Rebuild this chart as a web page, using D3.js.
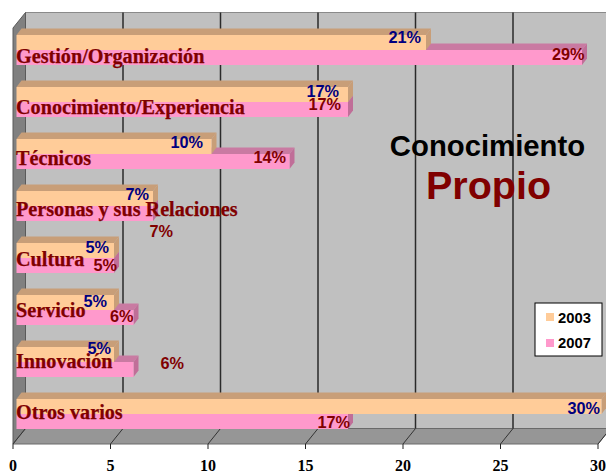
<!DOCTYPE html>
<html><head><meta charset="utf-8">
<script src="https://cdn.jsdelivr.net/npm/d3@7"></script>
<style>html,body{margin:0;padding:0;background:#fff;}svg{display:block;}</style>
</head><body>
<svg id="c" width="606" height="474"></svg>
<script>
// ---- data ----
const categories = ["Gestión/Organización","Conocimiento/Experiencia","Técnicos","Personas y sus Relaciones","Cultura","Servicio","Innovación","Otros varios"];
const values2003 = [21,17,10,7,5,5,5,30];
const values2007 = [29,17,14,7,5,6,6,17];
const seriesNames = ["2003","2007"];
const xTicks = [0,5,10,15,20,25,30];
const titleLine1 = "Conocimiento";
const titleLine2 = "Propio";

// ---- layout ----
const svg = d3.select("#c");
const frontTop = 28, frontBottom = 444;
const depth = {dx: 12.5, dy: -15.5};
const barOff = {dx: 3.5, dy: -4};
const barDepth = {dx: 5, dy: -6.5};
const x = d3.scaleLinear().domain([0,30]).range([13,598]);
const y = d3.scaleBand().domain(categories).range([frontTop, frontBottom]).paddingInner(0.423).paddingOuter(0.2115);
const ys = d3.scaleBand().domain(seriesNames).range([0, y.bandwidth()]);
const labelY = d3.scalePoint().domain(categories).range([63, 419]);

const colors = {"2003": {front:"#FFCC99", top:"#C89E78", side:"#C89E78", label:"#000080"},
                "2007": {front:"#FF99CC", top:"#C97AA2", side:"#C06E98", label:"#800000"}};

const poly = pts => "M" + pts.map(p => p.join(",")).join("L") + "Z";

// walls
const backLeft = x(0) + depth.dx, backTop = frontTop + depth.dy, backBottom = frontBottom + depth.dy;
const backRight = x(30) + depth.dx;
svg.append("path").attr("d", poly([[backLeft,backTop],[backRight,backTop],[backRight,backBottom],[backLeft,backBottom]]))
  .attr("fill","#C0C0C0").attr("stroke","#8a8a8a").attr("stroke-width",1);
svg.append("path").attr("d", poly([[x(0),frontTop],[backLeft,backTop],[backLeft,backBottom],[x(0),frontBottom]]))
  .attr("fill","#808080").attr("stroke","#5a5a5a").attr("stroke-width",1);
svg.append("path").attr("d", poly([[x(0),frontBottom],[x(30),frontBottom],[backRight,backBottom],[backLeft,backBottom]]))
  .attr("fill","#969696").attr("stroke","#6a6a6a").attr("stroke-width",1);

// gridlines on back wall and floor
xTicks.forEach(t => {
  if (t > 0) {
    svg.append("line").attr("x1", x(t)+depth.dx).attr("x2", x(t)+depth.dx)
      .attr("y1", backTop).attr("y2", backBottom).attr("stroke","#2a2a2a").attr("stroke-width",1.5);
  }
  svg.append("line").attr("x1", x(t)).attr("y1", frontBottom).attr("x2", x(t)+depth.dx).attr("y2", backBottom)
    .attr("stroke","#333").attr("stroke-width",1);
  svg.append("line").attr("x1", x(t)).attr("x2", x(t)).attr("y1", frontBottom).attr("y2", frontBottom+5)
    .attr("stroke","#222").attr("stroke-width",1);
});

// axis tick labels
svg.append("g").selectAll("text").data(xTicks).join("text")
  .attr("x", d => x(d)).attr("y", 470.5).attr("text-anchor","middle")
  .attr("font-family","'Liberation Serif','Times New Roman',serif").attr("font-weight","bold")
  .attr("font-size",16).attr("fill","#000").text(d => d);

// bars
function drawBar(g, v, top, c) {
  const xs = x(0) + barOff.dx, xe = x(v) + barOff.dx;
  const yt = top, yb = top + ys.bandwidth();
  g.append("path").attr("d", poly([[xs,yt],[xs+barDepth.dx,yt+barDepth.dy],[xe+barDepth.dx,yt+barDepth.dy],[xe,yt]])).attr("fill", c.top);
  g.append("path").attr("d", poly([[xe,yt],[xe+barDepth.dx,yt+barDepth.dy],[xe+barDepth.dx,yb+barDepth.dy],[xe,yb]])).attr("fill", c.side);
  g.append("rect").attr("x", xs).attr("y", yt).attr("width", xe-xs).attr("height", yb-yt).attr("fill", c.front);
}
const barsG = svg.append("g");
categories.forEach((cat, i) => {
  const base = y(cat) + barOff.dy;
  drawBar(barsG, values2007[i], base + ys("2007"), colors["2007"]);
  drawBar(barsG, values2003[i], base + ys("2003"), colors["2003"]);
});

// category labels
svg.append("g").selectAll("text").data(categories).join("text")
  .attr("x", 16).attr("y", d => labelY(d))
  .attr("font-family","'Liberation Serif','Times New Roman',serif").attr("font-weight","bold")
  .attr("font-size",20.2).attr("fill","#800000").attr("stroke","#800000").attr("stroke-width",0.25)
  .text(d => d);

// value labels (nudges relative to bar end / bar top)
const nudge2003 = [[0,-2],[-4,0],[-3.5,-1],[1,-1],[0,0],[-2,2],[2,-3],[3.5,5]];
const nudge2007 = [[2.5,0],[-7,-2],[-3.5,-1],[20,21],[3,3],[0,2],[50.5,-3],[2,4]];
const vlG = svg.append("g").attr("font-family","'Liberation Sans',Arial,sans-serif").attr("font-weight","bold").attr("font-size",16.3);
categories.forEach((cat, i) => {
  const base = y(cat) + barOff.dy;
  vlG.append("text").attr("text-anchor","end")
    .attr("x", x(values2003[i]) + barOff.dx - 5 + nudge2003[i][0])
    .attr("y", base + ys("2003") + 10 + nudge2003[i][1])
    .attr("fill", colors["2003"].label).text(values2003[i] + "%");
  vlG.append("text").attr("text-anchor","end")
    .attr("x", x(values2007[i]) + barOff.dx + nudge2007[i][0])
    .attr("y", base + ys("2007") + 10 + nudge2007[i][1])
    .attr("fill", colors["2007"].label).text(values2007[i] + "%");
});

// title
svg.append("text").attr("x", 487.5).attr("y", 155.5).attr("text-anchor","middle")
  .attr("font-family","'Liberation Sans',Arial,sans-serif").attr("font-weight","bold")
  .attr("font-size",29.3).attr("fill","#000").text(titleLine1);
svg.append("text").attr("x", 488.5).attr("y", 199).attr("text-anchor","middle")
  .attr("font-family","'Liberation Sans',Arial,sans-serif").attr("font-weight","bold")
  .attr("font-size",39.5).attr("fill","#800000").text(titleLine2);

// legend
const lg = svg.append("g").attr("transform","translate(535,303)");
lg.append("rect").attr("width",67).attr("height",53).attr("fill","#fff").attr("stroke","#000").attr("stroke-width",1);
seriesNames.forEach((s, i) => {
  lg.append("rect").attr("x",11).attr("y",10 + i*26).attr("width",8).attr("height",8).attr("fill", colors[s].front);
  lg.append("text").attr("x",23).attr("y",19.7 + i*25.6)
    .attr("font-family","'Liberation Sans',Arial,sans-serif").attr("font-weight","bold")
    .attr("font-size",14.8).attr("fill","#000").text(s);
});
</script>
</body></html>
